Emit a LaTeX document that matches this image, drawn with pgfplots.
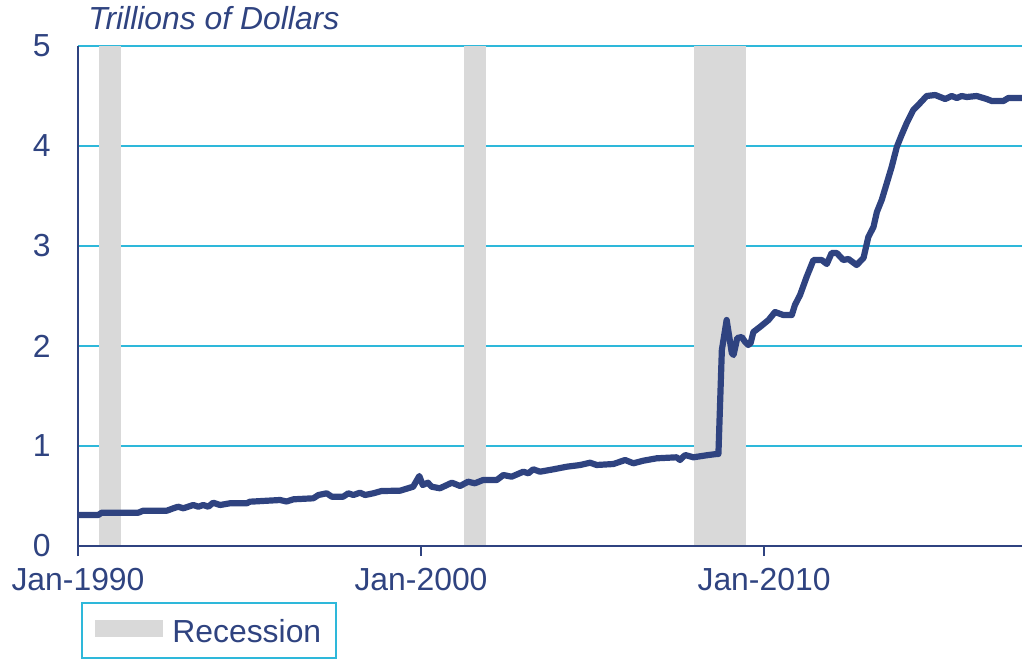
\documentclass[border=0pt]{standalone}
\usepackage{pgfplots}
\pgfplotsset{compat=1.18}
\usepackage{fontspec}
\setmainfont{Liberation Sans}
\definecolor{navy}{RGB}{47,67,128}
\definecolor{gridcyan}{RGB}{46,184,218}
\definecolor{recgray}{RGB}{217,217,217}
\begin{document}
\begin{tikzpicture}
\begin{axis}[
  scale only axis, width=472bp, height=250bp,
  xmin=1990, xmax=2017.52, ymin=0, ymax=5,
  axis x line*=bottom, axis y line*=left,
  axis line style={navy, line width=0.75bp, -},
  xtick={1990,2000,2010}, xticklabels={Jan-1990,Jan-2000,Jan-2010},
  ytick={0,1,2,3,4,5},
  ymajorgrids, grid style={gridcyan, line width=1bp},
  tick align=outside, major tick length=5bp,
  xtick style={navy, line width=0.75bp},
  ytick style={draw=none},
  tick label style={font=\fontsize{16}{18}\selectfont, text=navy},
  yticklabel style={xshift=-5.2bp},
  xticklabel style={yshift=-2.8bp},
  /pgf/number format/assume math mode=true,
]
\coordinate (o) at (rel axis cs:0,0);
% recession bands
\addplot[fill=recgray, draw=none] coordinates {(1990.61,0.008) (1990.61,5) (1991.25,5) (1991.25,0.008)} -- cycle;
\addplot[fill=recgray, draw=none] coordinates {(2001.25,0.008) (2001.25,5) (2001.90,5) (2001.90,0.008)} -- cycle;
\addplot[fill=recgray, draw=none] coordinates {(2007.96,0.008) (2007.96,5) (2009.47,5) (2009.47,0.008)} -- cycle;
% total assets
\addplot[navy, line width=3.1bp, line join=round] coordinates {
(1990.00,0.31) (1990.59,0.31) (1990.69,0.333) (1991.76,0.333) (1991.90,0.353)
(1992.59,0.353) (1992.78,0.377) (1992.92,0.393) (1993.07,0.377) (1993.36,0.41)
(1993.51,0.393) (1993.65,0.41) (1993.80,0.393) (1993.94,0.433) (1994.14,0.41)
(1994.43,0.427) (1994.92,0.427) (1995.01,0.443) (1995.89,0.46) (1996.08,0.445)
(1996.28,0.467) (1996.86,0.477) (1997.01,0.51) (1997.25,0.527) (1997.40,0.493)
(1997.73,0.493) (1997.88,0.527) (1998.03,0.51) (1998.22,0.533) (1998.37,0.51)
(1998.61,0.527) (1998.85,0.55) (1999.39,0.553) (1999.77,0.593) (1999.95,0.70)
(2000.05,0.61) (2000.20,0.633) (2000.31,0.593) (2000.55,0.577) (2000.90,0.633)
(2001.14,0.60) (2001.37,0.643) (2001.57,0.627) (2001.81,0.66) (2002.21,0.66)
(2002.40,0.71) (2002.64,0.693) (2002.98,0.743) (2003.13,0.727) (2003.27,0.767)
(2003.47,0.743) (2003.86,0.767) (2004.25,0.793) (2004.64,0.81) (2004.93,0.833)
(2005.12,0.81) (2005.61,0.82) (2005.95,0.86) (2006.19,0.827) (2006.48,0.853)
(2006.87,0.877) (2007.45,0.887) (2007.55,0.86) (2007.70,0.91) (2007.94,0.887)
(2008.38,0.91) (2008.62,0.92) (2008.67,0.92) (2008.77,1.96) (2008.91,2.26)
(2009.06,1.93) (2009.11,1.91) (2009.22,2.08) (2009.35,2.09) (2009.45,2.04)
(2009.54,2.01) (2009.61,2.03) (2009.69,2.14) (2009.88,2.19) (2010.13,2.26)
(2010.32,2.34) (2010.56,2.31) (2010.81,2.31) (2010.90,2.41) (2011.05,2.51)
(2011.24,2.69) (2011.44,2.86) (2011.68,2.86) (2011.83,2.82) (2011.97,2.93)
(2012.12,2.93) (2012.31,2.86) (2012.46,2.87) (2012.70,2.81) (2012.90,2.88)
(2013.04,3.09) (2013.19,3.19) (2013.29,3.34) (2013.43,3.46) (2013.58,3.63)
(2013.72,3.79) (2013.87,3.99) (2014.01,4.11) (2014.16,4.23) (2014.35,4.36)
(2014.55,4.43) (2014.74,4.50) (2014.99,4.51) (2015.28,4.47) (2015.47,4.50)
(2015.62,4.48) (2015.76,4.50) (2015.91,4.49) (2016.20,4.50) (2016.49,4.47)
(2016.64,4.45) (2016.98,4.45) (2017.12,4.48) (2017.52,4.48)
};
\end{axis}
% title
\node[anchor=base west, inner sep=0pt, text=navy, font=\fontsize{16}{18}\selectfont\itshape]
  at ([shift={(5bp,258bp)}]o) {Trillions of Dollars};
% legend
\draw[gridcyan, line width=0.75bp] ([shift={(2bp,-28.5bp)}]o) rectangle ([shift={(129bp,-56bp)}]o);
\fill[recgray] ([shift={(8.5bp,-37bp)}]o) rectangle ([shift={(42.5bp,-45.5bp)}]o);
\node[anchor=base west, inner sep=0pt, text=navy, font=\fontsize{16}{18}\selectfont]
  at ([shift={(47bp,-48.25bp)}]o) {Recession};
\pgfresetboundingbox
\path ([shift={(-39bp,-56.5bp)}]o) rectangle ([shift={(472bp,273bp)}]o);
\end{tikzpicture}
\end{document}
